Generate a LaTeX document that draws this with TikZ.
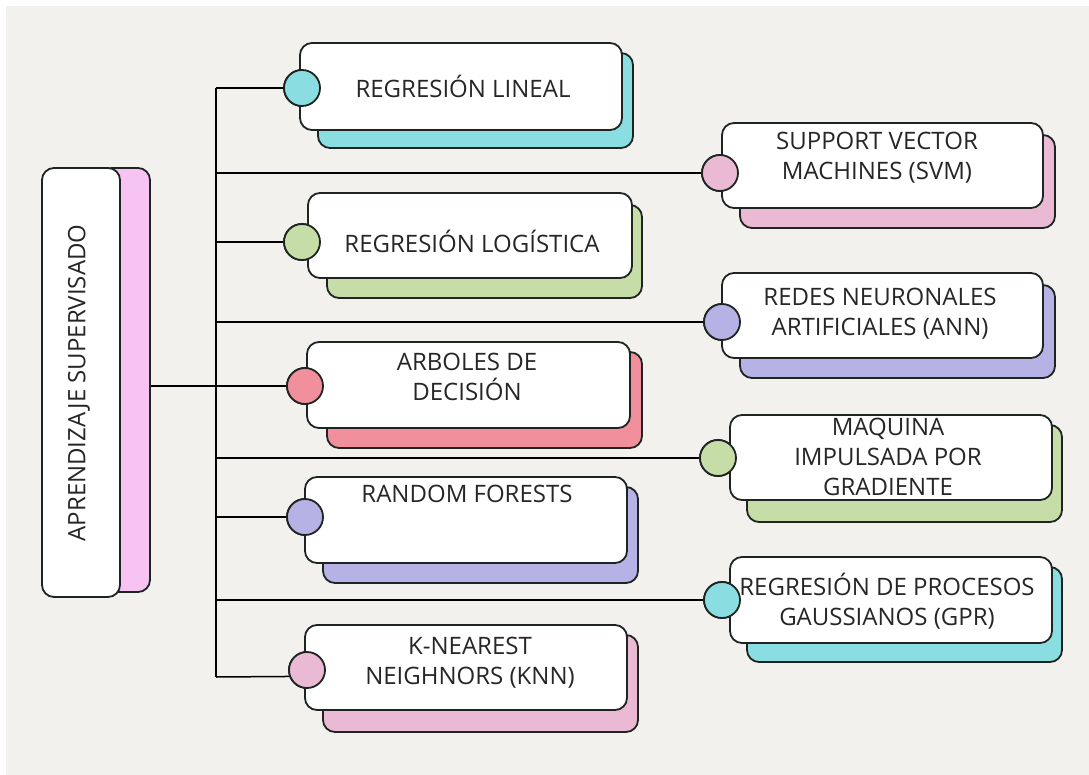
\documentclass[tikz,border=0pt]{standalone}
\usepackage{fontspec}
\setmainfont{Open Sans}
\definecolor{paper}{HTML}{F2F1ED}
\definecolor{ink}{HTML}{1E2422}
\definecolor{txt}{HTML}{262626}
\definecolor{cteal}{HTML}{8ADDE1}
\definecolor{cgreen}{HTML}{C6DDA8}
\definecolor{cred}{HTML}{F1909C}
\definecolor{clav}{HTML}{B7B2E6}
\definecolor{cpink}{HTML}{EAB9D3}
\definecolor{cmain}{HTML}{F6C3F2}
\tikzset{
  backcard/.style={draw=ink, line width=1.8pt, rounded corners=12pt},
  card/.style={draw=ink, line width=1.8pt, rounded corners=12pt, fill=white},
  dot/.style={circle, draw=ink, line width=1.8pt, minimum size=36pt, inner sep=0pt},
  link/.style={draw=black, line width=1.5pt},
  label/.style={text=txt, align=center, font=\fontsize{24}{30}\selectfont, inner sep=0pt},
}
\begin{document}
\begin{tikzpicture}[x=1pt, y=-1pt]
% page and paper
\fill[white] (0,0) rectangle (1089,775);
\fill[paper] (6,6) rectangle (1089,775);
\useasboundingbox (0,0) rectangle (1089,775);

% branch circles
\node[dot, fill=cteal]  (lin) at (302,88) {};
\node[dot, fill=cgreen] (log) at (302,242) {};
\node[dot, fill=cred]   (arb) at (305,386) {};
\node[dot, fill=clav]   (rf)  at (305,517) {};
\node[dot, fill=cpink]  (knn) at (307,670) {};
\node[dot, fill=cpink]  (svm) at (720,173) {};
\node[dot, fill=clav]   (ann) at (722,322) {};
\node[dot, fill=cgreen] (gbm) at (718,458) {};
\node[dot, fill=cteal]  (gpr) at (722,600) {};

% trunk and its branches
\coordinate (root) at (150,386);
\coordinate (ttop) at (216,88);
\coordinate (tbot) at (216,677);
\draw[link] (ttop) -- (tbot);
\draw[link] (root) -- (arb);
\draw[link] (ttop) -- (lin);
\draw[link] (216,173) -- (svm);
\draw[link] (216,242) -- (log);
\draw[link] (216,322) -- (ann);
\draw[link] (216,458) -- (gbm);
\draw[link] (216,517) -- (rf);
\draw[link] (216,600) -- (gpr);
\draw[link] (tbot) -- (knn.200);

% root card
\draw[backcard, fill=cmain] (100,168) rectangle (150,592);
\draw[card] (42,168) rectangle (120,597);
\node[label, rotate=90] (rootlbl) at (79,383) {APRENDIZAJE SUPERVISADO};

% left column cards
\draw[backcard, fill=cteal]  (318,53) rectangle (633,148);
\draw[card] (300,43) rectangle (622,130);
\draw[backcard, fill=cgreen] (327,205) rectangle (642,298);
\draw[card] (308,193) rectangle (632,278);
\draw[backcard, fill=cred]   (327,352) rectangle (642,448);
\draw[card] (307,342) rectangle (630,428);
\draw[backcard, fill=clav]   (323,487) rectangle (638,583);
\draw[card] (305,477) rectangle (627,563);
\draw[backcard, fill=cpink]  (323,635) rectangle (638,732);
\draw[card] (305,625) rectangle (627,710);

% right column cards
\draw[backcard, fill=cpink]  (740,135) rectangle (1055,228);
\draw[card] (722,123) rectangle (1043,208);
\draw[backcard, fill=clav]   (740,285) rectangle (1055,378);
\draw[card] (722,273) rectangle (1043,358);
\draw[backcard, fill=cgreen] (747,425) rectangle (1062,522);
\draw[card] (730,415) rectangle (1052,500);
\draw[backcard, fill=cteal]  (747,567) rectangle (1062,662);
\draw[card] (730,557) rectangle (1052,643);

% circles drawn again on top of the cards
\foreach \n/\c in {lin/cteal, log/cgreen, arb/cred, rf/clav, knn/cpink, svm/cpink, ann/clav, gbm/cgreen, gpr/cteal}
  \draw[ink, line width=1.8pt, fill=\c] (\n) circle (18pt);

% labels
\node[label] (linlbl) at (463,86)  {REGRESIÓN LINEAL};
\node[label] (loglbl) at (472,241) {REGRESIÓN LOGÍSTICA};
\node[label] (arblbl) at (467,377) {ARBOLES DE\\DECISIÓN};
\node[label] (rflbl)  at (467,494) {RANDOM FORESTS};
\node[label] (knnlbl) at (470,663) {K-NEAREST\\NEIGHNORS (KNN)};
\node[label] (svmlbl) at (877,158) {SUPPORT VECTOR\\MACHINES (SVM)};
\node[label] (annlbl) at (880,314) {REDES NEURONALES\\ARTIFICIALES (ANN)};
\node[label] (gbmlbl) at (888,457) {MAQUINA\\IMPULSADA POR\\GRADIENTE};
\node[label] (gprlbl) at (887,601) {REGRESIÓN DE PROCESOS\\GAUSSIANOS (GPR)};
\end{tikzpicture}
\end{document}
